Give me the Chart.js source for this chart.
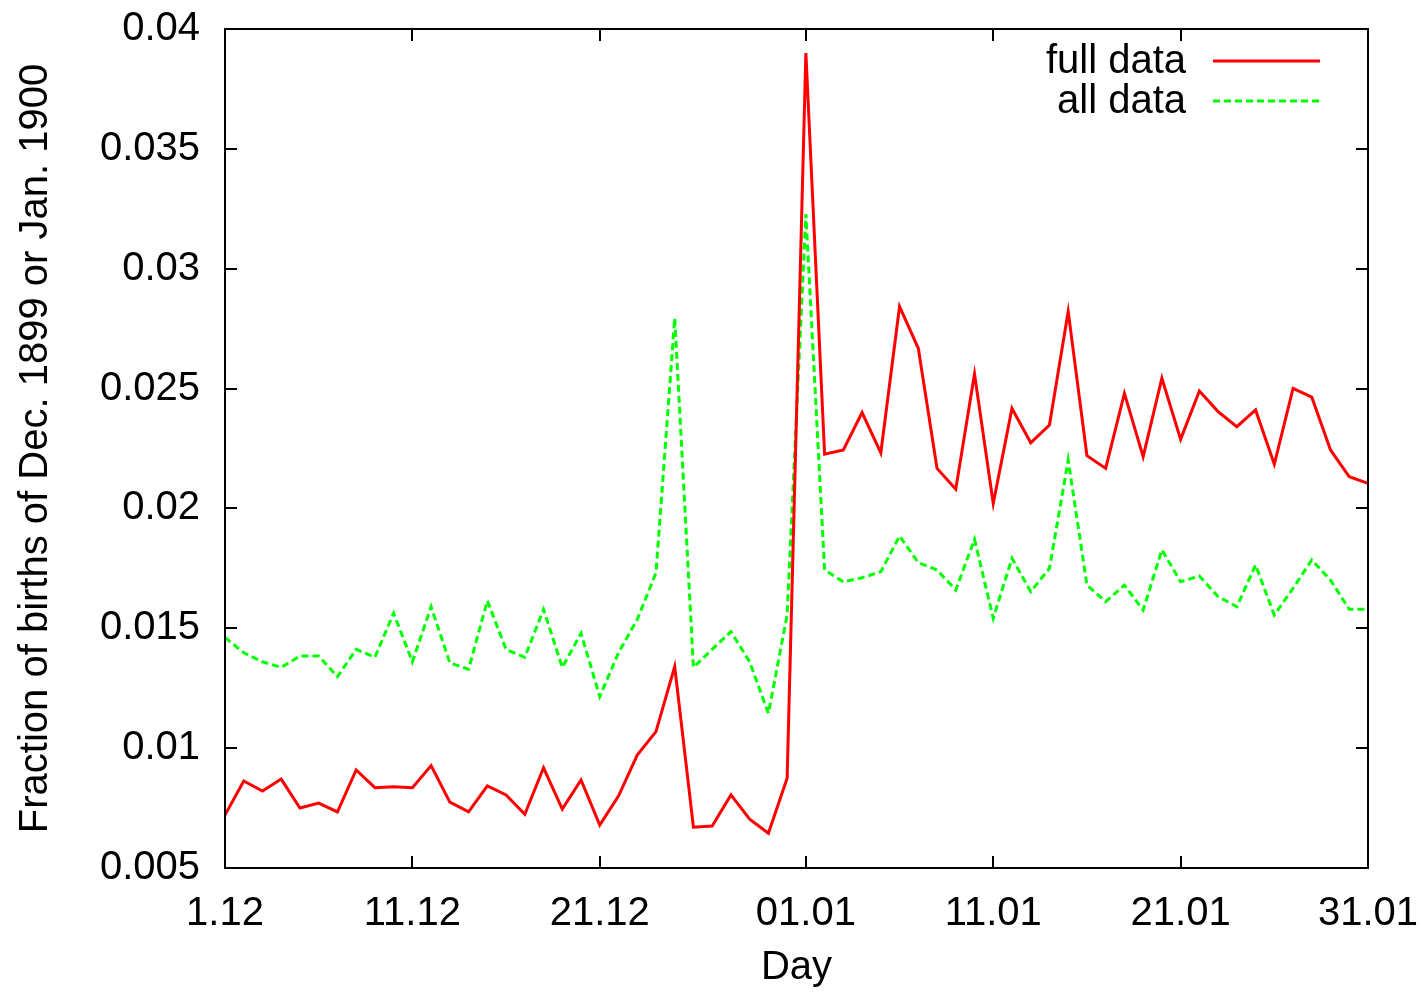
<!DOCTYPE html>
<html>
<head>
<meta charset="utf-8">
<script src="https://cdn.jsdelivr.net/npm/chart.js@4"></script>
<style>
  html, body { margin: 0; padding: 0; background: #fff; }
  canvas { display: block; }
</style>
</head>
<body>
<canvas id="births" width="1421" height="992"></canvas>
<script>
// day index 0 = 1.12 (1899), 31 = 01.01 (1900), 61 = 31.01
var xTickPos = [0, 10, 20, 31, 41, 51, 61];
var xTickLabels = ['1.12', '11.12', '21.12', '01.01', '11.01', '21.01', '31.01'];
var yTickValues = [0.005, 0.01, 0.015, 0.02, 0.025, 0.03, 0.035, 0.04];
var seriesNames = ['full data', 'all data'];

var fullData = [
  0.00721, 0.00863, 0.00821, 0.00871, 0.00750, 0.00771, 0.00734, 0.00909, 0.00835, 0.00839,
  0.00835, 0.00927, 0.00775, 0.00734, 0.00843, 0.00805, 0.00724, 0.00918, 0.00746, 0.00867,
  0.00679, 0.00800, 0.00971, 0.01069, 0.01340, 0.00670, 0.00675, 0.00805, 0.00704, 0.00645,
  0.00874, 0.03900, 0.02226, 0.02244, 0.02400, 0.02232, 0.02842, 0.02668, 0.02167, 0.02080,
  0.02561, 0.02021, 0.02417, 0.02274, 0.02348, 0.02821, 0.02220, 0.02167, 0.02480, 0.02216,
  0.02543, 0.02288, 0.02490, 0.02404, 0.02341, 0.02411, 0.02184, 0.02501, 0.02464, 0.02244,
  0.02132, 0.02105
];
var allData = [
  0.01462, 0.01398, 0.01360, 0.01337, 0.01384, 0.01384, 0.01298, 0.01412, 0.01379, 0.01563,
  0.01360, 0.01590, 0.01356, 0.01329, 0.01615, 0.01412, 0.01379, 0.01579, 0.01337, 0.01479,
  0.01215, 0.01398, 0.01537, 0.01731, 0.02794, 0.01337, 0.01412, 0.01486, 0.01360, 0.01145,
  0.01555, 0.03228, 0.01743, 0.01694, 0.01711, 0.01736, 0.01885, 0.01774, 0.01743, 0.01660,
  0.01871, 0.01542, 0.01792, 0.01653, 0.01750, 0.02202, 0.01680, 0.01611, 0.01680, 0.01576,
  0.01827, 0.01694, 0.01718, 0.01632, 0.01590, 0.01764, 0.01555, 0.01667, 0.01785, 0.01701,
  0.01579, 0.01579
];

var FONT = '"Liberation Sans", Arial, Helvetica, sans-serif';
var FS = 40;
Chart.defaults.font.family = FONT;
Chart.defaults.color = '#000';

function points(arr) {
  return arr.map(function (v, i) { return {x: i, y: v}; });
}

// gnuplot style frame: border box, inward ticks on all four sides, key in top right
var gnuFrame = {
  id: 'gnuFrame',
  afterDatasetsDraw: function (chart) {
    var c = chart.ctx, a = chart.chartArea;
    var xs = chart.scales.x, ys = chart.scales.y;
    var tl = 12;
    c.save();
    c.strokeStyle = '#000';
    c.lineWidth = 2;
    c.beginPath();
    xs.ticks.forEach(function (t) {
      var px = Math.round(xs.getPixelForValue(t.value));
      c.moveTo(px, a.bottom); c.lineTo(px, a.bottom - tl);
      c.moveTo(px, a.top); c.lineTo(px, a.top + tl);
    });
    ys.ticks.forEach(function (t) {
      var py = Math.round(ys.getPixelForValue(t.value));
      c.moveTo(a.left, py); c.lineTo(a.left + tl, py);
      c.moveTo(a.right, py); c.lineTo(a.right - tl, py);
    });
    c.stroke();
    c.strokeRect(a.left, a.top, a.right - a.left, a.bottom - a.top);

    // key
    c.font = FS + 'px ' + FONT;
    c.textAlign = 'right';
    c.textBaseline = 'middle';
    chart.data.datasets.forEach(function (ds, k) {
      var y = a.top + 32 + k * 40;
      c.fillStyle = '#000';
      c.fillText(ds.label, a.right - 182, y + 1);
      c.strokeStyle = ds.borderColor;
      c.lineWidth = ds.borderWidth;
      c.setLineDash(ds.borderDash || []);
      c.beginPath();
      c.moveTo(a.right - 155, y);
      c.lineTo(a.right - 48, y);
      c.stroke();
    });
    c.restore();
  }
};

new Chart(document.getElementById('births'), {
  type: 'line',
  data: {
    datasets: [{
      label: seriesNames[0],
      data: points(fullData),
      borderColor: '#ff0000',
      borderWidth: 3,
      pointRadius: 0,
      tension: 0,
      fill: false
    }, {
      label: seriesNames[1],
      data: points(allData),
      borderColor: '#00ff00',
      borderWidth: 3,
      borderDash: [7, 4],
      pointRadius: 0,
      tension: 0,
      fill: false
    }]
  },
  options: {
    responsive: false,
    animation: false,
    devicePixelRatio: 1,
    layout: {padding: {top: 29, right: 53, left: 0, bottom: 0}},
    plugins: {legend: {display: false}, tooltip: {enabled: false}},
    scales: {
      x: {
        type: 'linear',
        min: 0,
        max: 61,
        grid: {display: false, drawTicks: false},
        border: {display: false},
        afterBuildTicks: function (s) {
          s.ticks = xTickPos.map(function (v) { return {value: v}; });
        },
        afterFit: function (s) {
          s.height = 124;
          s.paddingLeft = 0;
          s.paddingRight = 0;
        },
        ticks: {
          autoSkip: false,
          maxRotation: 0,
          padding: 22,
          font: {size: FS},
          callback: function (v) {
            var i = xTickPos.indexOf(v);
            return i >= 0 ? xTickLabels[i] : '';
          }
        },
        title: {display: true, text: 'Day', font: {size: FS}, padding: {top: 0, bottom: 0}}
      },
      y: {
        min: 0.005,
        max: 0.04,
        grid: {display: false, drawTicks: false},
        border: {display: false},
        afterBuildTicks: function (s) {
          s.ticks = yTickValues.map(function (v) { return {value: v}; });
        },
        afterFit: function (s) {
          s.width = 225;
          s.paddingTop = 0;
          s.paddingBottom = 0;
        },
        ticks: {
          padding: 25,
          font: {size: FS},
          callback: function (v) { return String(Number(v.toFixed(3))); }
        },
        title: {
          display: true,
          text: 'Fraction of births of Dec. 1899 or Jan. 1900',
          font: {size: FS},
          padding: {top: 12, bottom: 0}
        }
      }
    }
  },
  plugins: [gnuFrame]
});
</script>
</body>
</html>
